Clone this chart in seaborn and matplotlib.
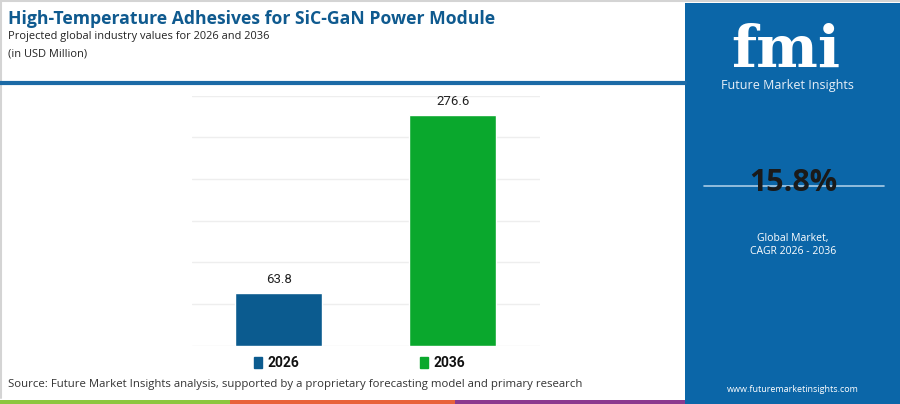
import matplotlib
matplotlib.use("Agg")
import matplotlib.pyplot as plt
import matplotlib.patches as mpatches
import pandas as pd
import seaborn as sns

# DATA
years = ["2026", "2036"]
values = [63.8, 276.6]
bar_colors = ["#0b5b8f", "#0aa82d"]
cagr_text = "15.8%"
title = "High-Temperature Adhesives for SiC-GaN Power Module"
subtitle = "Projected global industry values for 2026 and 2036"
unit_text = "(in USD Million)"
source_text = "Source: Future Market Insights analysis, supported by a proprietary forecasting model and primary research"

df = pd.DataFrame({"year": years, "value": values})

sns.set_theme(style="white")
plt.rcParams["font.family"] = ["Open Sans", "DejaVu Sans"]

W, H = 900, 404
fig = plt.figure(figsize=(W / 100, H / 100), dpi=100)
fig.patch.set_facecolor("white")

def fx(px):
    return px / W

def fy(py):
    return 1 - py / H

# right blue panel
fig.add_artist(mpatches.Rectangle((fx(685), 0), fx(215), fy(3), transform=fig.transFigure,
                                  facecolor="#0b66a8", edgecolor="none", zorder=0))
# frame lines
fig.add_artist(plt.Line2D([0, 1], [fy(1), fy(1)], transform=fig.transFigure, color="#d4d4d4", lw=1.5))
fig.add_artist(plt.Line2D([fx(1), fx(1)], [fy(1), fy(398)], transform=fig.transFigure, color="#d4d4d4", lw=1.5))
# header blue rule
fig.add_artist(plt.Line2D([0, fx(685)], [fy(82.5), fy(82.5)], transform=fig.transFigure, color="#1b6aa6", lw=3))
# bottom colour strip
for x0, x1, c in [(0, 230, "#8cc63f"), (230, 455, "#e8623a"), (455, 685, "#8b3a8f")]:
    fig.add_artist(mpatches.Rectangle((fx(x0), 0), fx(x1 - x0), 4.5 / H, transform=fig.transFigure,
                                      facecolor=c, edgecolor="none"))

# titles
fig.text(fx(8), fy(19), title, fontsize=12.7, fontweight="bold", color="#0f5a8f", va="center", ha="left")
fig.text(fx(8), fy(36), subtitle, fontsize=7.9, color="#222222", va="center", ha="left")
fig.text(fx(8), fy(54), unit_text, fontsize=7.9, color="#222222", va="center", ha="left")
fig.text(fx(8), fy(385), source_text, fontsize=8.2, color="#333333", va="center", ha="left")

# bar chart
ax = fig.add_axes([fx(191.7), 1 - 345.7 / H, fx(540 - 191.7), (345.7 - 95.7) / H])
sns.barplot(data=df, x="year", y="value", hue="year", palette=bar_colors, width=0.5,
            saturation=1, legend=False, ax=ax, zorder=3)
ax.set_ylim(0, 300)
ax.set_xlim(-0.5, 1.5)
ax.set_yticks(range(0, 301, 50))
ax.yaxis.grid(True, color="#eeeeee", lw=1)
ax.set_axisbelow(True)
ax.set_xticks([])
ax.set_yticklabels([])
ax.tick_params(left=False, bottom=False)
ax.set_xlabel("")
ax.set_ylabel("")
for s in ax.spines.values():
    s.set_visible(False)
for i, v in enumerate(values):
    ax.annotate(f"{v}", (i, v), xytext=(0, 5), textcoords="offset points", ha="center", va="bottom",
                fontsize=9.5, color="#222222", family=["Roboto", "DejaVu Sans"])

handles = [mpatches.Patch(color=c, label=y) for y, c in zip(years, bar_colors)]
leg = ax.legend(handles=handles, loc="center", bbox_to_anchor=(0.482, -0.07), ncol=2, frameon=False,
                handlelength=0.6, handleheight=0.9, handletextpad=0.4, columnspacing=8.7,
                prop={"weight": "bold", "size": 10, "family": ["Roboto", "DejaVu Sans"]})
for t in leg.get_texts():
    t.set_color("#111111")

# right panel texts
fig.text(fx(786), fy(67), "fmi", fontsize=42, fontweight="bold", color="white", ha="center", va="baseline",
         family=["DejaVu Serif"])
fig.text(fx(787), fy(85), "Future Market Insights", fontsize=9, color="#e8f0f8", ha="center", va="center")
fig.add_artist(plt.Line2D([fx(704), fx(884)], [fy(186), fy(186)], transform=fig.transFigure,
                          color="#a9cbe6", lw=1.2, zorder=1))
fig.text(fx(793), fy(183), cagr_text, fontsize=22, fontweight="bold", color="#1a1a1a", ha="center", va="center",
         zorder=2)
fig.text(fx(793), fy(238), "Global Market,", fontsize=7.5, color="white", ha="center", va="center")
fig.text(fx(793), fy(251), "CAGR 2026 - 2036", fontsize=7.5, color="white", ha="center", va="center")
fig.text(fx(793), fy(389), "www.futuremarketinsights.com", fontsize=6.5, color="white", ha="center", va="center")

fig.savefig("out.png", dpi=100, facecolor="white")
